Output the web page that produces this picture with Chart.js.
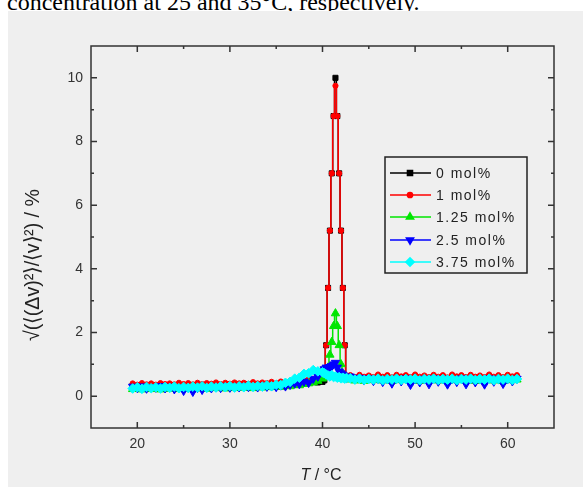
<!DOCTYPE html>
<html>
<head>
<meta charset="utf-8">
<script src="https://cdn.jsdelivr.net/npm/chart.js@4.4.1/dist/chart.umd.min.js"></script>
<style>
  body { margin: 0; width: 583px; height: 487px; overflow: hidden; position: relative; background: #fff; }
  #cap { position: absolute; left: 7px; top: -10px; font: 24px "Liberation Serif", serif; line-height: 24px; white-space: nowrap; color: #000; }
  #panel { position: absolute; left: 8px; top: 11px; width: 575px; height: 476px; background: #efefef; }
  #chart { position: absolute; left: 0; top: 0; }
</style>
</head>
<body>
<div id="cap">concentration at 25 and 35°C, respectively.</div>
<div id="panel"></div>
<canvas id="chart" width="583" height="487"></canvas>
<script>
// temperatures (°C), shared by all series
const temps = [
  19.5,20,20.5,21,21.5,22,22.5,23,23.5,24,24.5,25,25.5,26,26.5,27,27.5,28,28.5,29,29.5,30,30.5,31,31.5,32,32.5,33,33.5,34,34.5,35,35.5,36,36.5,37,37.5,38,38.5,39,39.5,40,
  40.2,40.4,40.6,40.8,41,41.2,41.4,41.6,41.8,42,42.2,42.4,42.6,
  43,43.5,44,44.5,45,45.5,46,46.5,47,47.5,48,48.5,49,49.5,50,50.5,51,51.5,52,52.5,53,53.5,54,54.5,55,55.5,56,56.5,57,57.5,58,58.5,59,59.5,60,60.5,61
];

// sqrt(<dv^2>/<v^2>) in %
const mol0 = [
  0.33,0.32,0.34,0.31,0.33,0.32,0.34,0.33,0.32,0.34,0.33,0.35,0.33,0.34,0.32,0.35,0.34,0.33,0.35,0.34,0.36,0.35,0.34,0.36,0.35,0.37,0.36,0.35,0.37,0.36,0.38,0.37,0.39,0.38,0.40,0.41,0.40,0.42,0.43,0.44,0.43,0.45,
  0.5,1.6,3.4,5.2,7.0,8.8,10.0,8.8,7.0,5.2,3.4,1.6,0.6,
  0.58,0.56,0.57,0.55,0.56,0.54,0.56,0.55,0.57,0.55,0.56,0.54,0.56,0.55,0.57,0.54,0.56,0.55,0.57,0.55,0.56,0.54,0.56,0.55,0.57,0.55,0.56,0.54,0.56,0.55,0.57,0.55,0.56,0.54,0.56,0.55,0.56
];
const mol1 = [
  0.40,0.36,0.41,0.37,0.40,0.36,0.41,0.38,0.40,0.37,0.42,0.38,0.41,0.37,0.42,0.38,0.41,0.39,0.43,0.38,0.42,0.39,0.43,0.40,0.42,0.39,0.44,0.40,0.43,0.41,0.45,0.41,0.46,0.43,0.48,0.46,0.50,0.49,0.53,0.52,0.55,0.58,
  0.6,1.6,3.4,5.2,7.0,8.8,9.75,8.8,7.0,5.2,3.4,1.6,0.65,
  0.66,0.60,0.67,0.61,0.65,0.60,0.68,0.61,0.66,0.59,0.67,0.62,0.66,0.60,0.68,0.61,0.65,0.60,0.67,0.61,0.66,0.59,0.68,0.62,0.66,0.60,0.67,0.61,0.65,0.60,0.68,0.61,0.66,0.60,0.67,0.62,0.66
];
const mol125 = [
  0.22,0.25,0.21,0.26,0.22,0.24,0.21,0.25,0.23,0.26,0.22,0.25,0.23,0.27,0.24,0.26,0.23,0.27,0.25,0.28,0.24,0.27,0.25,0.29,0.26,0.28,0.25,0.29,0.27,0.30,0.28,0.31,0.29,0.33,0.31,0.35,0.34,0.38,0.40,0.43,0.48,0.55,
  0.6,0.7,0.9,1.3,1.7,2.2,2.6,2.2,1.6,1.0,0.7,0.6,0.55,
  0.52,0.49,0.53,0.48,0.52,0.50,0.53,0.49,0.51,0.48,0.52,0.50,0.53,0.49,0.52,0.48,0.51,0.50,0.53,0.49,0.52,0.48,0.51,0.50,0.53,0.49,0.52,0.48,0.51,0.50,0.53,0.49,0.52,0.48,0.51,0.50,0.52
];
const mol25 = [
  0.30,0.26,0.31,0.24,0.29,0.27,0.32,0.25,0.30,0.22,0.28,0.17,0.27,0.14,0.26,0.20,0.28,0.25,0.30,0.26,0.31,0.27,0.30,0.28,0.32,0.29,0.31,0.28,0.33,0.30,0.32,0.29,0.34,0.31,0.36,0.40,0.38,0.46,0.42,0.55,0.62,0.78,
  0.85,0.9,0.88,0.92,0.95,1.0,1.05,0.9,0.78,0.72,0.68,0.62,0.58,
  0.62,0.55,0.58,0.50,0.56,0.48,0.55,0.45,0.54,0.40,0.55,0.47,0.56,0.36,0.54,0.44,0.55,0.38,0.56,0.46,0.55,0.37,0.54,0.45,0.56,0.38,0.55,0.44,0.54,0.37,0.56,0.46,0.55,0.39,0.54,0.47,0.55
];
const mol375 = [
  0.24,0.28,0.23,0.29,0.25,0.28,0.24,0.29,0.26,0.30,0.25,0.29,0.26,0.30,0.27,0.31,0.26,0.30,0.27,0.31,0.28,0.32,0.27,0.31,0.28,0.33,0.29,0.32,0.30,0.34,0.31,0.36,0.35,0.42,0.45,0.55,0.58,0.70,0.72,0.82,0.78,0.75,
  0.72,0.68,0.65,0.62,0.66,0.6,0.62,0.58,0.6,0.56,0.58,0.55,0.57,
  0.56,0.52,0.55,0.51,0.54,0.52,0.55,0.50,0.54,0.52,0.55,0.51,0.54,0.52,0.55,0.50,0.54,0.52,0.55,0.51,0.54,0.52,0.55,0.50,0.54,0.52,0.55,0.51,0.54,0.52,0.55,0.50,0.54,0.52,0.55,0.51,0.54
];

const seriesNames = ['0 mol%', '1 mol%', '1.25 mol%', '2.5 mol%', '3.75 mol%'];
const xTicks = [20, 30, 40, 50, 60];
const xMinor = [25, 35, 45, 55];
const yTicks = [0, 2, 4, 6, 8, 10];
const yMinor = [1, 3, 5, 7, 9];

const styles = [
  { color: '#000000', pointStyle: 'rect', radius: 3.6, rotation: 0 },
  { color: '#ff0000', pointStyle: 'circle', radius: 2.6, rotation: 0 },
  { color: '#00e600', pointStyle: 'triangle', radius: 4.8, rotation: 0 },
  { color: '#0000ff', pointStyle: 'triangle', radius: 4.8, rotation: 180 },
  { color: '#00ffff', pointStyle: 'rectRot', radius: 4.8, rotation: 0 }
];

const allValues = [mol0, mol1, mol125, mol25, mol375];
const datasets = allValues.map((vals, i) => ({
  label: seriesNames[i],
  data: vals.map((v, k) => ({ x: temps[k], y: v })),
  borderColor: styles[i].color,
  backgroundColor: styles[i].color,
  pointBackgroundColor: styles[i].color,
  pointBorderColor: styles[i].color,
  pointStyle: styles[i].pointStyle,
  pointRadius: styles[i].radius,
  pointRotation: styles[i].rotation,
  pointBorderWidth: 1,
  borderWidth: 1.5,
  stepped: 'middle',
  order: 5 - i
}));

const FONT = '"Liberation Sans", Arial, sans-serif';

// frame with inward ticks on all sides, axis titles and boxed legend
const decorPlugin = {
  id: 'decor',
  afterDraw(chart) {
    const { ctx, chartArea: a, scales: { x, y } } = chart;
    ctx.save();
    ctx.strokeStyle = '#333';
    ctx.lineWidth = 1.5;
    ctx.strokeRect(a.left, a.top, a.right - a.left, a.bottom - a.top);
    ctx.beginPath();
    const tx = (v, len) => {
      const px = x.getPixelForValue(v);
      ctx.moveTo(px, a.bottom); ctx.lineTo(px, a.bottom - len);
      ctx.moveTo(px, a.top); ctx.lineTo(px, a.top + len);
    };
    const ty = (v, len) => {
      const py = y.getPixelForValue(v);
      ctx.moveTo(a.left, py); ctx.lineTo(a.left + len, py);
      ctx.moveTo(a.right, py); ctx.lineTo(a.right - len, py);
    };
    xTicks.forEach(v => tx(v, 6));
    xMinor.forEach(v => tx(v, 3));
    yTicks.forEach(v => ty(v, 6));
    yMinor.forEach(v => ty(v, 3));
    ctx.stroke();

    // y title, rotated and squeezed a bit
    ctx.fillStyle = '#222';
    ctx.save();
    ctx.translate(33, 265);
    ctx.rotate(-Math.PI / 2);
    ctx.font = '21px ' + FONT;
    ctx.textAlign = 'center';
    ctx.textBaseline = 'middle';
    const yTitle = '√(⟨(Δv)²⟩/⟨v⟩²) / %';
    const w = ctx.measureText(yTitle).width;
    ctx.scale(Math.min(1, 152 / w), 1);
    ctx.fillText(yTitle, 0, 0);
    ctx.restore();

    // x title: T / °C
    ctx.textBaseline = 'alphabetic';
    ctx.textAlign = 'left';
    ctx.font = 'italic 16px ' + FONT;
    const wT = ctx.measureText('T').width;
    ctx.font = '16px ' + FONT;
    const rest = ' / °C';
    const wR = ctx.measureText(rest).width;
    const x0 = 321 - (wT + wR) / 2;
    ctx.font = 'italic 16px ' + FONT;
    ctx.fillText('T', x0, 480);
    ctx.font = '16px ' + FONT;
    ctx.fillText(rest, x0 + wT, 480);

    // legend
    ctx.strokeStyle = '#222';
    ctx.lineWidth = 1.5;
    ctx.strokeRect(385, 157, 142, 116);
    const rowY = [173, 195, 217, 240, 262];
    ctx.font = '14px ' + FONT;
    ctx.textBaseline = 'middle';
    ctx.letterSpacing = '1.5px';
    seriesNames.forEach((name, i) => {
      const s = styles[i];
      ctx.strokeStyle = s.color;
      ctx.lineWidth = 1.5;
      ctx.beginPath();
      ctx.moveTo(390, rowY[i]); ctx.lineTo(431, rowY[i]);
      ctx.stroke();
      ctx.fillStyle = s.color;
      Chart.helpers.drawPoint(ctx, {
        pointStyle: s.pointStyle, radius: Math.min(s.radius, 4.2), rotation: s.rotation, borderWidth: 1
      }, 410, rowY[i]);
      ctx.fillStyle = '#222';
      ctx.fillText(name, 436, rowY[i] + 1);
    });
    ctx.restore();
  }
};

new Chart(document.getElementById('chart'), {
  type: 'line',
  data: { datasets },
  options: {
    responsive: false,
    animation: false,
    devicePixelRatio: 1,
    layout: { padding: { left: 0, top: 46, right: 29, bottom: 0 } },
    plugins: { legend: { display: false }, tooltip: { enabled: false } },
    scales: {
      x: {
        type: 'linear', min: 15, max: 65,
        afterBuildTicks: s => { s.ticks = xTicks.map(v => ({ value: v })); },
        afterFit: s => { s.height = 59; },
        grid: { display: false }, border: { display: false },
        ticks: { font: { family: FONT, size: 14 }, color: '#333', padding: 0, maxRotation: 0 }
      },
      y: {
        type: 'linear', min: -1, max: 11,
        afterBuildTicks: s => { s.ticks = yTicks.map(v => ({ value: v })); },
        afterFit: s => { s.width = 91; },
        grid: { display: false }, border: { display: false },
        ticks: { font: { family: FONT, size: 14 }, color: '#333', padding: 0 }
      }
    }
  },
  plugins: [decorPlugin]
});
</script>
</body>
</html>
